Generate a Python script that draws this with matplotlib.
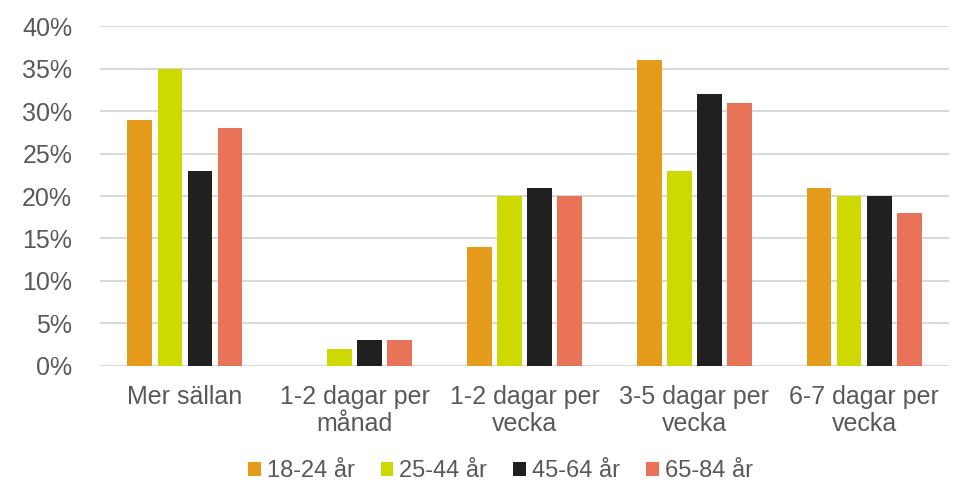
import matplotlib

matplotlib.use("Agg")
import matplotlib.pyplot as plt
import numpy as np
from matplotlib.ticker import PercentFormatter

plt.rcParams["font.family"] = ["Liberation Sans", "DejaVu Sans"]

CATEGORIES = ["Mer sällan", "1-2 dagar per\nmånad", "1-2 dagar per\nvecka",
              "3-5 dagar per\nvecka", "6-7 dagar per\nvecka"]
GROUPS = ["18-24 år", "25-44 år", "45-64 år", "65-84 år"]
AGE_18_24 = [29, 0, 14, 36, 21]
AGE_25_44 = [35, 2, 20, 23, 20]
AGE_45_64 = [23, 3, 21, 32, 20]
AGE_65_84 = [28, 3, 20, 31, 18]
COLORS = ["#E59B1B", "#CDD900", "#202020", "#E87358"]

TXT = "#595959"

fig = plt.figure(figsize=(9.66, 4.84), dpi=100)
ax = fig.add_axes([0.1035, 0.244, 0.879, 0.702])

x = np.arange(len(CATEGORIES))
step = 0.177
for i, (vals, lab, c) in enumerate(zip([AGE_18_24, AGE_25_44, AGE_45_64, AGE_65_84], GROUPS, COLORS)):
    ax.bar(x + (i - 1.5) * step, vals, width=0.145, color=c, label=lab, zorder=3)

ax.set_xlim(-0.5, len(CATEGORIES) - 0.5)
ax.set_ylim(0, 40)
ax.set_yticks(range(0, 41, 5))
ax.yaxis.set_major_formatter(PercentFormatter(decimals=0))
ax.grid(axis="y", color="#D9D9D9", linewidth=1.5, zorder=0)
for s in ["top", "right", "left", "bottom"]:
    ax.spines[s].set_visible(False)
ax.axhline(0, color="#D9D9D9", linewidth=1.5, zorder=2)
ax.tick_params(axis="both", length=0, labelsize=18, colors=TXT)
ax.tick_params(axis="y", pad=20)
ax.tick_params(axis="x", pad=14)
ax.set_xticks(x)
ax.set_xticklabels(CATEGORIES, linespacing=1.15)

leg = fig.legend(loc="lower center", bbox_to_anchor=(0.518, -0.04), ncol=4, frameon=False,
                 fontsize=17, handlelength=0.55, handleheight=0.55, handletextpad=0.25,
                 columnspacing=1.1, labelcolor=TXT)
for h in leg.legend_handles:
    h.set_linewidth(0)

fig.savefig("out.png", dpi=100)
